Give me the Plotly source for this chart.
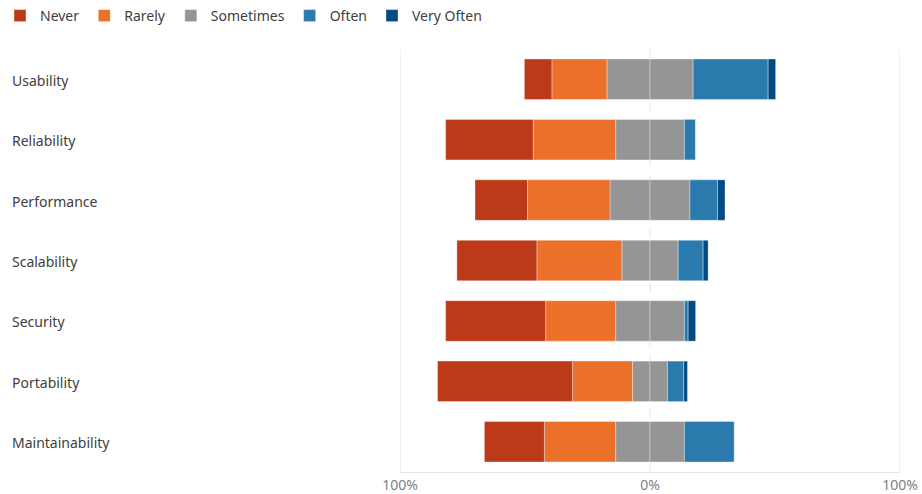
import plotly.graph_objects as go

categories = ["Usability", "Reliability", "Performance", "Scalability",
              "Security", "Portability", "Maintainability"]
never = [11, 35, 21, 32, 40, 54, 24]
rarely = [22, 33, 33, 34, 28, 24, 28.5]
sometimes = [34.5, 27.5, 32, 22.5, 27.5, 14, 27.5]
often = [30, 4.5, 11, 10, 1.5, 6.5, 20]
very_often = [3, 0, 3, 2, 3, 1.5, 0]

tick_vals = [-100, 0, 100]
tick_text = ["100%", "0%", "100%"]

colors = {
    "Never": "#BC3A17",
    "Rarely": "#EB7029",
    "Sometimes": "#959595",
    "Often": "#2B7AAD",
    "Very Often": "#024B80",
}
FONT = "Noto Sans, Open Sans, sans-serif"
edge = dict(color="rgba(255,255,255,0.35)", width=1)

half_some = [s / 2 for s in sometimes]

fig = go.Figure()
# negative side (order: nearest zero first)
fig.add_trace(go.Bar(y=categories, x=[-v for v in half_some], orientation="h",
                     name="Sometimes", marker=dict(color=colors["Sometimes"], line=edge),
                     showlegend=False, legendgroup="s"))
fig.add_trace(go.Bar(y=categories, x=[-v for v in rarely], orientation="h",
                     name="Rarely", marker=dict(color=colors["Rarely"], line=edge),
                     legendrank=2))
fig.add_trace(go.Bar(y=categories, x=[-v for v in never], orientation="h",
                     name="Never", marker=dict(color=colors["Never"], line=edge),
                     legendrank=1))
# positive side
fig.add_trace(go.Bar(y=categories, x=half_some, orientation="h",
                     name="Sometimes", marker=dict(color=colors["Sometimes"], line=edge),
                     legendrank=3, legendgroup="s"))
fig.add_trace(go.Bar(y=categories, x=often, orientation="h",
                     name="Often", marker=dict(color=colors["Often"], line=edge),
                     legendrank=4))
fig.add_trace(go.Bar(y=categories, x=very_often, orientation="h",
                     name="Very Often", marker=dict(color=colors["Very Often"], line=edge),
                     legendrank=5))

# vertical guide lines
shapes = []
for v in tick_vals:
    shapes.append(dict(type="line", xref="x", yref="paper", x0=v, x1=v, y0=0, y1=1,
                       line=dict(color="#E3E3E3", width=1, dash="dash" if v == 0 else "solid"),
                       layer="below"))

annotations = [dict(xref="paper", yref="y", x=-0.78, y=c, text=c, showarrow=False,
                    xanchor="left", yanchor="middle", yshift=-1,
                    font=dict(family=FONT, size=14, color="#404040"))
               for c in categories]

fig.update_layout(
    width=922, height=494,
    barmode="relative", bargap=0.33,
    margin=dict(l=400, r=22, t=49, b=22),
    plot_bgcolor="white", paper_bgcolor="white",
    font=dict(family=FONT, size=14, color="#404040"),
    shapes=shapes, annotations=annotations,
    legend=dict(orientation="h", xref="container", yref="container",
                x=0, y=1, xanchor="left", yanchor="top",
                font=dict(family=FONT, size=14, color="#404040"),
                itemwidth=30, traceorder="normal"),
    xaxis=dict(range=[-100, 100], tickvals=tick_vals, ticktext=tick_text,
               showgrid=False, zeroline=False, showline=True, linecolor="#E3E3E3",
               ticks="", tickfont=dict(family=FONT, size=14, color="#808080"),
               automargin=False, fixedrange=True),
    yaxis=dict(categoryorder="array", categoryarray=categories, autorange="reversed",
               showticklabels=False, showgrid=False, zeroline=False, automargin=False),
)

fig.write_html("out.html")
